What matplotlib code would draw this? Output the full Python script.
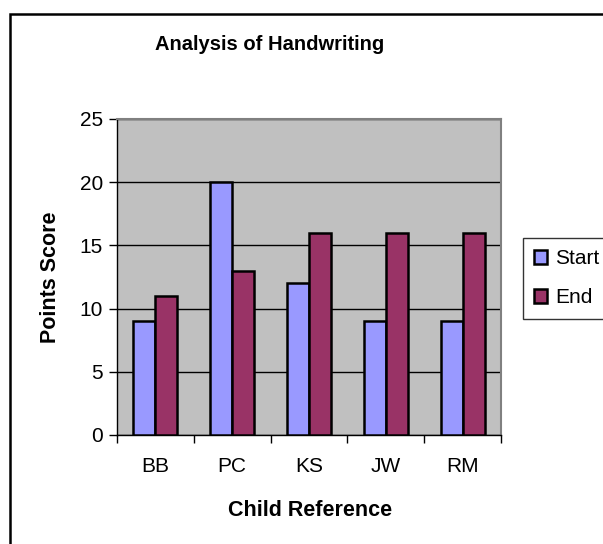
import matplotlib
matplotlib.use("Agg")
import matplotlib.pyplot as plt
from matplotlib.patches import Rectangle
import numpy as np

plt.rcParams['font.family'] = ['Liberation Sans', 'DejaVu Sans']

children = ["BB", "PC", "KS", "JW", "RM"]
start_scores = [9, 20, 12, 9, 9]
end_scores = [11, 13, 16, 16, 16]
y_ticks = [0, 5, 10, 15, 20, 25]

W, H = 603, 544
fig = plt.figure(figsize=(W / 100, H / 100), dpi=100)
fig.patch.set_facecolor("white")

# outer chart frame
fig.patches.append(Rectangle((10 / W, -0.1), 1.2, 1 - 14 / H + 0.1,
                             transform=fig.transFigure, fill=False,
                             edgecolor="black", linewidth=1.8))

ax = fig.add_axes([117 / W, 1 - 435 / H, (501 - 117) / W, (435 - 119) / H])
ax.set_facecolor("#C0C0C0")

x = np.arange(len(children))
bw = 0.286
ax.bar(x - bw / 2, start_scores, bw, color="#9999FF", edgecolor="black",
       linewidth=1.8, label="Start", zorder=3)
ax.bar(x + bw / 2, end_scores, bw, color="#993366", edgecolor="black",
       linewidth=1.8, label="End", zorder=3)

ax.set_xlim(-0.5, len(children) - 0.5)
ax.set_ylim(0, 25)
ax.set_yticks(y_ticks)
ax.yaxis.grid(True, color="black", linewidth=1.0, zorder=1)
ax.set_axisbelow(True)

ax.set_xticks(x)
ax.set_xticklabels(children, fontsize=15)
ax.set_xticks(np.arange(-0.5, len(children), 1.0), minor=True)
ax.tick_params(axis="x", which="major", length=0, pad=16)
ax.tick_params(axis="x", which="minor", length=6, width=1, direction="out")
ax.tick_params(axis="y", labelsize=15, length=6, width=1, direction="out", pad=4)

for side in ("top", "right"):
    ax.spines[side].set_color("#808080")
    ax.spines[side].set_linewidth(1.5)
for side in ("left", "bottom"):
    ax.spines[side].set_color("black")
    ax.spines[side].set_linewidth(1.0)

fig.text(270 / W, 1 - 45 / H, "Analysis of Handwriting", ha="center",
         va="center", fontsize=14.5, fontweight="bold")
fig.text(310 / W, 1 - 510 / H, "Child Reference", ha="center", va="center",
         fontsize=15.5, fontweight="bold")
fig.text(50 / W, 1 - 277 / H, "Points Score", ha="center", va="center",
         rotation=90, fontsize=15.5, fontweight="bold")

leg = fig.legend(loc="upper left", bbox_to_anchor=(523 / W, 1 - 238 / H),
                 bbox_transform=fig.transFigure, fontsize=15, frameon=True,
                 fancybox=False, edgecolor="black", handlelength=0.6,
                 handleheight=0.6, handletextpad=0.4, borderpad=0.55,
                 labelspacing=0.95, borderaxespad=0)
leg.get_frame().set_linewidth(1.0)

fig.savefig("out.png", dpi=100)
